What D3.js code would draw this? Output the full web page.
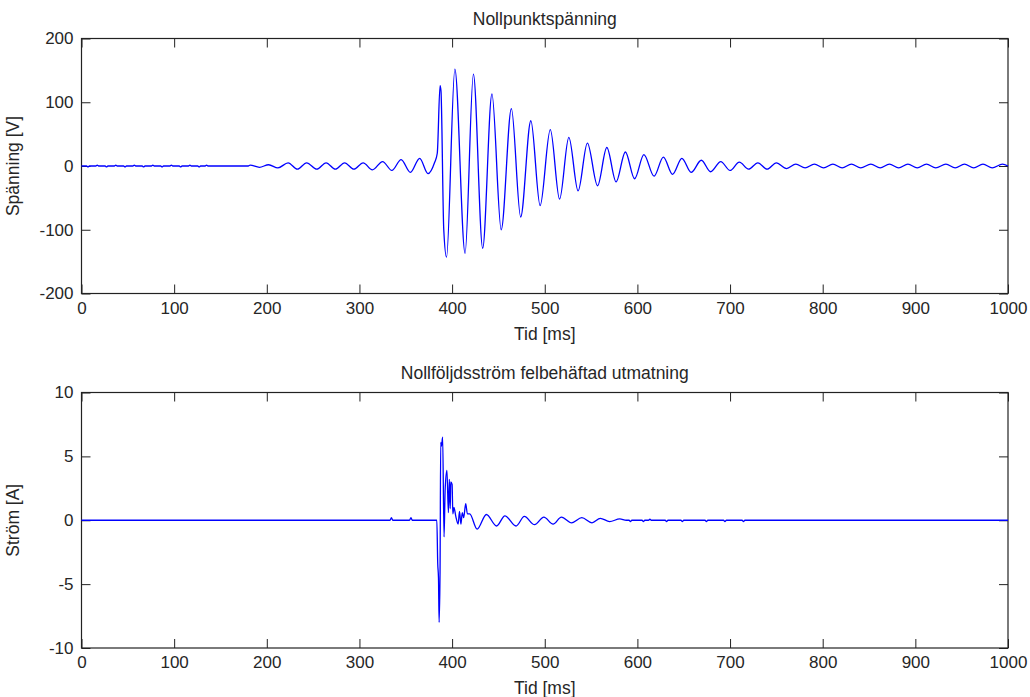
<!DOCTYPE html>
<html>
<head>
<meta charset="utf-8">
<script src="https://cdnjs.cloudflare.com/ajax/libs/d3/7.8.5/d3.min.js"></script>
<style>
  body { margin: 0; background: #fff; }
  svg { display: block; font-family: "Liberation Sans", Arial, sans-serif; }
  .tick line { stroke: #222; }
  .tick text { fill: #262626; font-size: 17px; }
</style>
</head>
<body>
<div id="fig"></div>
<script>
// Nollpunktspänning [V] (peaks and troughs)
var voltTime = [0, 5.5, 7, 8.5, 15.5, 17, 18.5, 25.5, 27, 28.5, 35.5, 37, 38.5, 45.5, 47, 48.5, 55.5, 57, 58.5,
  65.5, 67, 68.5, 75.5, 77, 78.5, 85.5, 87, 88.5, 95.5, 97, 98.5, 105.5, 107, 108.5, 115.5, 117, 118.5,
  125.5, 127, 128.5, 133.5, 135, 136.5, 180,
  182, 192, 202, 212, 223, 233, 243, 254, 264, 274, 284, 294, 304, 314, 325, 335, 345, 355, 365, 374, 381, 384,
  387, 388, 391, 394, 403, 414, 423, 433, 443, 453, 464, 474, 485, 495, 506, 516, 526, 536, 546, 557, 567, 577,
  587, 597, 607, 618, 628, 638, 648, 658, 669, 679, 690, 700, 710, 720, 730, 740, 750, 761, 771, 781, 791, 801,
  811, 821, 831, 841, 852, 862, 872, 882, 892, 902, 912, 922, 933, 943, 953, 963, 973, 983, 994, 1000];
var voltValue = [0, 0, -1.5, 0, 0, 1.5, 0, 0, -1.5, 0, 0, 1.5, 0, 0, -1.5, 0, 0, 1.5, 0,
  0, -1.5, 0, 0, 1.5, 0, 0, -1.5, 0, 0, 1.5, 0, 0, -1.5, 0, 0, 1.5, 0,
  0, -1.5, 0, 0, 1.5, 0, 0,
  1.5, -2, 2, -3, 5, -5, 5, -5, 5, -5, 5, -5, 5, -6, 7, -7, 10, -10, 12, -12, 5, 20,
  126, 118, -100, -143, 152, -137, 144, -129, 113, -100, 90, -80, 71, -62, 57, -52, 45, -39, 36, -31, 29, -25,
  22, -20, 18, -16, 14, -13, 12, -10, 9, -9, 7, -7, 6, -5, 5, -5, 5, -4, 3, -3, 3, -3,
  3, -3, 3, -3, 3, -3, 3, -3, 3, -3, 3, -3, 3, -3, 3, -3, 3, -3, 3, 0];

// Nollföljdsström felbehäftad utmatning [A]
var currTime = [0, 333, 334.5, 336, 354, 355.6, 357, 383.5, 384.5, 385.3, 386, 387, 387.7, 388.5, 389.8, 391.3, 392.5,
  394.4, 396, 397, 398, 398.5, 400, 400.8, 402, 404, 406.5, 408, 409.5, 411, 412.5, 414.7, 416.5, 419, 427, 437,
  448, 457, 469, 478, 489, 499, 509, 518, 529, 540, 551, 560, 570, 581, 588,
  591, 592.5, 594, 605, 606.5, 608, 612, 613.5, 615, 630, 631.5, 633, 647, 648.5, 650,
  673, 674.5, 676, 693, 694.5, 696, 713, 714.5, 716, 1000];
var currValue = [0, 0, 0.2, 0, 0, 0.2, 0, 0, -3.4, -4.5, -8.0, -4, 6.1, 5.8, 6.5, -1.3, 2.4,
  3.9, 0.6, 3.2, 0.9, 3.0, 2.8, 0.5, 1.0, 0.3, -0.3, 0.7, -0.3, 0.6, 0.2, 1.3, 0.5, 0.5, -0.7, 0.45,
  -0.45, 0.35, -0.45, 0.3, -0.35, 0.25, -0.3, 0.25, -0.2, 0.2, -0.2, 0.15, -0.1, 0.1, 0,
  0, -0.1, 0, 0, -0.1, 0, 0, 0.08, 0, 0, -0.1, 0, 0, -0.1, 0,
  0, -0.1, 0, 0, -0.1, 0, 0, -0.1, 0, 0];

var xTicks = [0, 100, 200, 300, 400, 500, 600, 700, 800, 900, 1000];
var voltTicks = [-200, -100, 0, 100, 200];
var currTicks = [-10, -5, 0, 5, 10];

var width = 1030, height = 697;
var svg = d3.select("#fig").append("svg").attr("width", width).attr("height", height);
var plain = function (d) { return String(d); };

function drawPanel(opt) {
    var x = d3.scaleLinear().domain([0, 1000]).range([opt.left, opt.right]);
    var y = d3.scaleLinear().domain(opt.yDomain).range([opt.bottom, opt.top]);
    var g = svg.append("g");

    g.append("g").attr("transform", "translate(0," + opt.bottom + ")")
        .call(d3.axisBottom(x).tickValues(xTicks).tickSizeInner(-9).tickSizeOuter(0).tickPadding(8).tickFormat(plain))
        .call(function (a) { a.select(".domain").remove(); });
    g.append("g").attr("transform", "translate(0," + opt.top + ")")
        .call(d3.axisTop(x).tickValues(xTicks).tickSizeInner(-9).tickSizeOuter(0).tickFormat(""))
        .call(function (a) { a.select(".domain").remove(); });
    g.append("g").attr("transform", "translate(" + opt.left + ",0)")
        .call(d3.axisLeft(y).tickValues(opt.yTicks).tickSizeInner(-9).tickSizeOuter(0).tickPadding(8).tickFormat(plain))
        .call(function (a) { a.select(".domain").remove(); });
    g.append("g").attr("transform", "translate(" + opt.right + ",0)")
        .call(d3.axisRight(y).tickValues(opt.yTicks).tickSizeInner(-9).tickSizeOuter(0).tickFormat(""))
        .call(function (a) { a.select(".domain").remove(); });
    g.selectAll(".tick text").attr("font-family", null).attr("font-size", null);

    g.append("rect").attr("x", opt.left).attr("y", opt.top)
        .attr("width", opt.right - opt.left).attr("height", opt.bottom - opt.top)
        .attr("fill", "none").attr("stroke", "#222").attr("stroke-width", 1.2);

    var pts = opt.t.map(function (d, i) { return [d, opt.v[i]]; });
    var line = d3.line().x(function (d) { return x(d[0]); }).y(function (d) { return y(d[1]); }).curve(d3.curveMonotoneX);
    g.append("path").datum(pts).attr("d", line)
        .attr("fill", "none").attr("stroke", "#0000ff").attr("stroke-width", 1.3);

    g.append("text").attr("x", (opt.left + opt.right) / 2).attr("y", opt.top - 14)
        .attr("text-anchor", "middle").attr("font-size", 17.5).attr("fill", "#262626").text(opt.title);
    g.append("text").attr("x", (opt.left + opt.right) / 2).attr("y", opt.bottom + 46)
        .attr("text-anchor", "middle").attr("font-size", 17.5).attr("fill", "#262626").text("Tid [ms]");
    g.append("text").attr("transform", "translate(19," + (opt.top + opt.bottom) / 2 + ") rotate(-90)")
        .attr("text-anchor", "middle").attr("font-size", 17.5).attr("fill", "#262626").text(opt.yLabel);
}

drawPanel({ left: 81.5, right: 1008, top: 38.5, bottom: 293.5, yDomain: [-200, 200], yTicks: voltTicks,
    t: voltTime, v: voltValue, title: "Nollpunktspänning", yLabel: "Spänning [V]" });
drawPanel({ left: 81.5, right: 1008, top: 392.5, bottom: 648, yDomain: [-10, 10], yTicks: currTicks,
    t: currTime, v: currValue, title: "Nollföljdsström felbehäftad utmatning", yLabel: "Ström [A]" });
</script>
</body>
</html>
